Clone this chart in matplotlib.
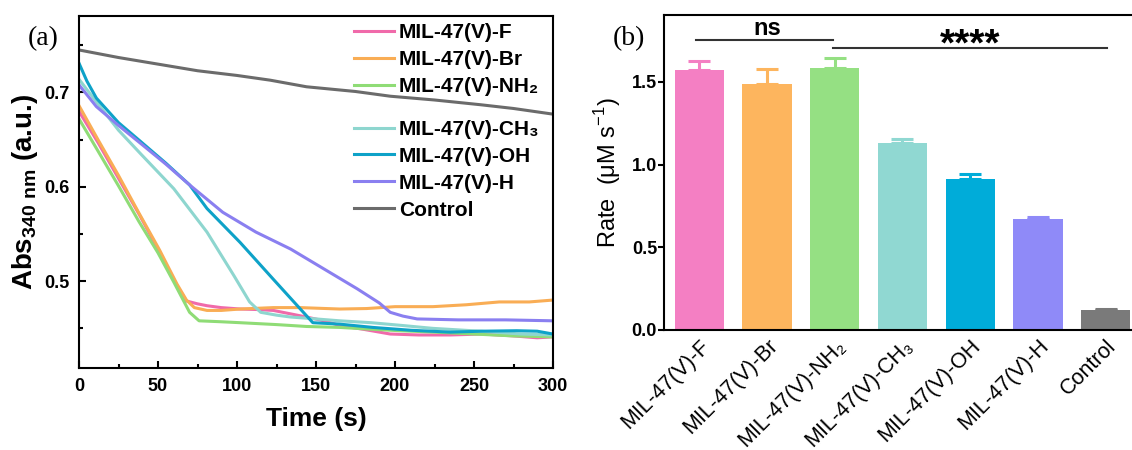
import matplotlib
matplotlib.use('Agg')
import matplotlib.pyplot as plt
from matplotlib.ticker import MultipleLocator, FormatStrFormatter

plt.rcParams['font.family'] = ['Liberation Sans', 'DejaVu Sans']
plt.rcParams['mathtext.fontset'] = 'custom'
plt.rcParams['mathtext.rm'] = 'Liberation Sans:bold'
plt.rcParams['mathtext.sf'] = 'Liberation Sans'
plt.rcParams['axes.linewidth'] = 1.5

# ---- (a) absorbance at 340 nm vs time ----
t_F = [0, 12, 25, 38, 51, 62, 68, 75, 81, 90, 102, 112, 123, 135, 144, 155, 165, 180, 197, 215, 235, 255, 275, 290, 300]
a_F = [0.680, 0.647, 0.609, 0.571, 0.531, 0.495, 0.479, 0.476, 0.474, 0.472, 0.4705, 0.470, 0.469, 0.465, 0.462,
       0.458, 0.453, 0.449, 0.444, 0.443, 0.443, 0.444, 0.442, 0.440, 0.441]

t_Br = [0, 12, 25, 38, 51, 62, 68, 73, 81, 90, 102, 123, 140, 165, 182, 200, 224, 245, 266, 285, 300]
a_Br = [0.686, 0.650, 0.612, 0.572, 0.533, 0.497, 0.480, 0.472, 0.469, 0.469, 0.4705, 0.472, 0.472, 0.4705,
        0.471, 0.473, 0.473, 0.475, 0.478, 0.478, 0.480]

t_NH2 = [0, 12, 25, 38, 50, 60, 70, 76, 90, 102, 125, 144, 165, 186, 203, 225, 250, 275, 300]
a_NH2 = [0.672, 0.638, 0.601, 0.563, 0.530, 0.499, 0.467, 0.458, 0.457, 0.456, 0.454, 0.452, 0.451, 0.449,
         0.4475, 0.446, 0.444, 0.442, 0.441]

t_CH3 = [0, 5, 11, 25, 39, 60, 81, 98, 108, 115, 125, 134, 150, 165, 185, 205, 224, 254, 280, 300]
a_CH3 = [0.714, 0.703, 0.690, 0.660, 0.635, 0.598, 0.552, 0.506, 0.478, 0.467, 0.464, 0.462, 0.460, 0.458,
         0.456, 0.453, 0.450, 0.447, 0.444, 0.443]

t_OH = [0, 5, 11, 25, 39, 55, 70, 81, 102, 123, 142, 148, 165, 186, 210, 235, 255, 277, 290, 300]
a_OH = [0.731, 0.712, 0.694, 0.668, 0.648, 0.625, 0.602, 0.577, 0.541, 0.502, 0.467, 0.456, 0.4545, 0.451,
        0.448, 0.446, 0.447, 0.4475, 0.447, 0.444]

t_H = [0, 11, 25, 39, 55, 70, 91, 112, 134, 155, 176, 190, 197, 205, 214, 240, 270, 300]
a_H = [0.708, 0.685, 0.665, 0.646, 0.624, 0.602, 0.573, 0.552, 0.534, 0.513, 0.492, 0.477, 0.467, 0.463,
       0.460, 0.459, 0.459, 0.458]

t_ctrl = [0, 25, 50, 75, 100, 121, 144, 175, 197, 225, 254, 275, 300]
a_ctrl = [0.745, 0.737, 0.730, 0.723, 0.718, 0.713, 0.706, 0.701, 0.696, 0.692, 0.687, 0.683, 0.677]

line_labels = ['MIL-47(V)-F', 'MIL-47(V)-Br', 'MIL-47(V)-NH\u2082',
               'MIL-47(V)-CH\u2083', 'MIL-47(V)-OH', 'MIL-47(V)-H', 'Control']
line_colors = ['#f06aaa', '#f9ad55', '#8fdc76', '#8ed6cf', '#0ea2c8', '#8a7ff0', '#6b6b6b']

# ---- (b) rates ----
bar_labels = ['MIL-47(V)-F', 'MIL-47(V)-Br', 'MIL-47(V)-NH\u2082',
              'MIL-47(V)-CH\u2083', 'MIL-47(V)-OH', 'MIL-47(V)-H', 'Control']
rates = [1.573, 1.486, 1.583, 1.133, 0.913, 0.670, 0.121]
rate_err = [0.055, 0.093, 0.064, 0.020, 0.030, 0.012, 0.003]
bar_colors = ['#f47fc3', '#fdb55e', '#95e083', '#90d8d2', '#00acd9', '#8f8af8', '#7a7a7a']

W, H = 1132, 450


def px_box(l, t, r, b):
    return [l / W, 1 - b / H, (r - l) / W, (b - t) / H]


fig = plt.figure(figsize=(W / 100, H / 100), dpi=100)

# ---------------- panel (a) ----------------
axA = fig.add_axes(px_box(79, 16, 553, 368))
series = [(t_F, a_F), (t_Br, a_Br), (t_NH2, a_NH2), (t_CH3, a_CH3),
          (t_OH, a_OH), (t_H, a_H), (t_ctrl, a_ctrl)]
handles = []
for (t, a), c, lab in zip(series, line_colors, line_labels):
    h, = axA.plot(t, a, color=c, lw=2.2, label=lab)
    handles.append(h)

axA.set_xlim(0, 300)
axA.set_ylim(0.408, 0.781)
axA.xaxis.set_major_locator(MultipleLocator(50))
axA.xaxis.set_minor_locator(MultipleLocator(25))
axA.yaxis.set_major_locator(MultipleLocator(0.1))
axA.yaxis.set_minor_locator(MultipleLocator(0.05))
axA.yaxis.set_major_formatter(FormatStrFormatter('%.1f'))
axA.tick_params(which='both', direction='in', width=1.5, labelsize=13, pad=7)
axA.tick_params(which='major', length=5)
axA.tick_params(which='minor', length=3)
plt.setp(axA.get_xticklabels() + axA.get_yticklabels(), fontweight='bold')

axA.set_xlabel('Time (s)', fontsize=19, fontweight='bold', labelpad=9)
axA.set_ylabel(r'Abs$_{\mathrm{340\ nm}}$ (a.u.)', fontsize=20, fontweight='bold', labelpad=3)

leg_kw = dict(loc='upper left', frameon=False, borderpad=0, borderaxespad=0,
              handlelength=1.9, handletextpad=0.25, labelspacing=0.38,
              prop=dict(weight='bold', size=15))
leg1 = axA.legend(handles[:3], line_labels[:3], bbox_to_anchor=(0.580, 0.979), **leg_kw)
axA.add_artist(leg1)
axA.legend(handles[3:], line_labels[3:], bbox_to_anchor=(0.580, 0.705), **leg_kw)

fig.text(43 / W, 1 - 39 / H, '(a)', family='Liberation Serif', fontsize=20, ha='center', va='center')

# ---------------- panel (b) ----------------
axB = fig.add_axes(px_box(664, 15, 1141, 330))
xpos = list(range(len(rates)))
axB.bar(xpos, rates, width=0.73, color=bar_colors, zorder=2)
for x, r, e, c in zip(xpos, rates, rate_err, bar_colors):
    axB.errorbar(x, r, yerr=[[0], [e]], fmt='none', ecolor=c, elinewidth=2.2,
                 capsize=8, capthick=2.2, zorder=1)

axB.set_xlim(-0.52, 6.52)
axB.set_ylim(0, 1.905)
axB.set_yticks([0, 0.5, 1.0, 1.5])
axB.yaxis.set_major_formatter(FormatStrFormatter('%.1f'))
axB.set_xticks(xpos)
axB.set_xticklabels(bar_labels, rotation=45, ha='right', va='top',
                    rotation_mode='anchor', fontsize=15.5)
axB.tick_params(axis='x', length=0, pad=4)
axB.tick_params(axis='y', direction='out', length=4, width=1.5, labelsize=13, pad=1)
plt.setp(axB.get_yticklabels(), fontweight='bold')
axB.set_ylabel('Rate  (\u03bcM s$^{\\mathsf{-1}}$)', fontsize=17, labelpad=6)

# significance brackets
axB.plot([-0.05, 1.98], [1.754, 1.754], color='#333333', lw=1.5)
axB.text(1.0, 1.785, 'ns', ha='center', va='baseline', fontsize=17, fontweight='bold')
axB.plot([1.97, 6.02], [1.706, 1.706], color='#333333', lw=1.5)
axB.text(4.0, 1.66, '****', ha='center', va='baseline', fontsize=28, fontweight='bold')

fig.text(629 / W, 1 - 39 / H, '(b)', family='Liberation Serif', fontsize=20, ha='center', va='center')

fig.savefig('out.png', dpi=100)
